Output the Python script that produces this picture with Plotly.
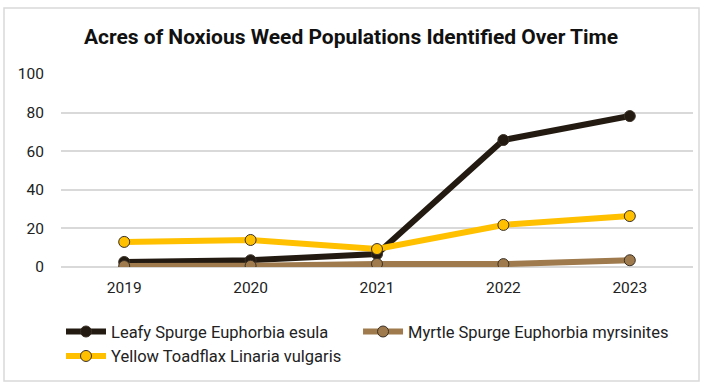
import plotly.graph_objects as go

years = ["2019", "2020", "2021", "2022", "2023"]
leafy = [2.6, 3.5, 6.7, 65.8, 78.2]
myrtle = [0.5, 0.6, 1.6, 1.5, 3.5]
toadflax = [13.0, 14.0, 9.3, 21.8, 26.4]
names = ["Leafy Spurge Euphorbia esula", "Myrtle Spurge Euphorbia myrsinites",
         "Yellow Toadflax Linaria vulgaris"]
colors = ["#231b12", "#9e7a4c", "#ffc000"]
legend_ids = ["legend", "legend2", "legend"]
y_ticks = [0, 20, 40, 60, 80, 100]

FONT = "Roboto, sans-serif"

fig = go.Figure()
for vals, name, col, lg in zip([leafy, myrtle, toadflax], names, colors, legend_ids):
    fig.add_trace(go.Scatter(
        x=years, y=vals, name=name, mode="lines+markers", legend=lg,
        line=dict(color=col, width=6),
        marker=dict(size=11, color=col, line=dict(color="#3a3026", width=1)),
    ))

leg_font = dict(family=FONT, size=16.5, color="#222222")
fig.update_layout(
    width=702, height=383,
    margin=dict(l=61, r=9, t=74, b=116, autoexpand=False),
    paper_bgcolor="white", plot_bgcolor="white",
    font=dict(family=FONT, size=15, color="#222222"),
    title=dict(text="<b>Acres of Noxious Weed Populations Identified Over Time</b>",
               x=0.5, xanchor="center", y=0.905, yanchor="middle",
               font=dict(family=FONT, size=21, color="#111111")),
    showlegend=True,
    legend=dict(orientation="v", x=0.0, xanchor="left", y=-0.245, yanchor="top",
                font=leg_font, itemwidth=40, tracegroupgap=0),
    legend2=dict(orientation="v", x=0.47, xanchor="left", y=-0.245, yanchor="top",
                 font=leg_font, itemwidth=40, tracegroupgap=0),
    shapes=[dict(type="rect", xref="paper", yref="paper",
                 x0=-57/632, x1=(699-61)/632, y0=(383-381 - 116)/193, y1=(383-8-116)/193,
                 line=dict(color="#d9d9d9", width=1.5), fillcolor="rgba(0,0,0,0)", layer="below")],
)
fig.update_xaxes(type="category", range=[-0.5, 4.5], showgrid=False, showline=False,
                 ticks="", tickfont=dict(size=15.5), ticklabelstandoff=9)
fig.update_yaxes(range=[0, 100], tickvals=y_ticks, showgrid=True, gridcolor="#d9d9d9",
                 gridwidth=1.5, zeroline=True, zerolinecolor="#d9d9d9", zerolinewidth=1.5,
                 showline=False, ticks="", tickfont=dict(size=15.5), ticklabelstandoff=16)

fig.write_html("out.html")
